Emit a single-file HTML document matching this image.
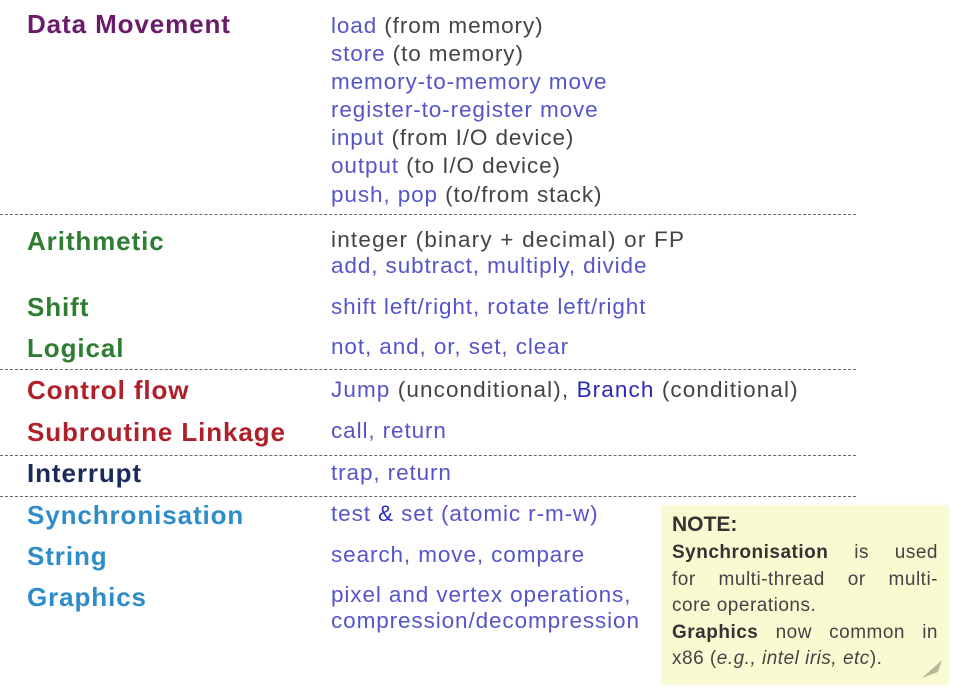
<!DOCTYPE html>
<html><head><meta charset="utf-8"><style>
body{margin:0;width:964px;height:696px;background:#fff;position:relative;overflow:hidden;font-family:"Liberation Sans",Arial,sans-serif}
.l{position:absolute;left:27px;font-weight:bold;font-size:26px;line-height:28px;white-space:nowrap;letter-spacing:0.9px}
.r{position:absolute;left:331px;font-size:22.5px;line-height:28px;white-space:nowrap;color:#444;letter-spacing:0.9px}
.b{color:#5555c8}
.bb{color:#2a2ab8}
.d{position:absolute;left:0;width:856px;border-top:1.5px dashed #666;height:0}
.note{position:absolute;left:662px;top:506px;width:286px;height:178px;background:#fafad2;box-shadow:0 0 4px #f0f0c0}
.nt{position:absolute;left:672px;font-size:19px;line-height:26.5px;color:#444;width:266px;letter-spacing:0.5px;white-space:nowrap}
.j{text-align:justify;text-align-last:justify}
</style></head><body>
<div class="l" style="top:10px;color:#6a1b6a">Data Movement</div>
<div class="r" style="top:12px"><span class="b">load</span> (from memory)</div>
<div class="r" style="top:40px"><span class="b">store</span> (to memory)</div>
<div class="r b" style="top:68px">memory-to-memory move</div>
<div class="r b" style="top:96px">register-to-register move</div>
<div class="r" style="top:124px"><span class="b">input</span> (from I/O device)</div>
<div class="r" style="top:152px"><span class="b">output</span> (to I/O device)</div>
<div class="r" style="top:181px"><span class="b">push, pop</span> (to/from stack)</div>
<div class="d" style="top:214px"></div>
<div class="l" style="top:227px;color:#2e7d32">Arithmetic</div>
<div class="r" style="top:226px;letter-spacing:1.2px">integer (binary + decimal) or FP</div>
<div class="r b" style="top:252px">add, subtract, multiply, divide</div>
<div class="l" style="top:293px;color:#2e7d32">Shift</div>
<div class="r b" style="top:293px">shift left/right, rotate left/right</div>
<div class="l" style="top:334px;color:#2e7d32">Logical</div>
<div class="r b" style="top:333px">not, and, or, set, clear</div>
<div class="d" style="top:369px"></div>
<div class="l" style="top:376px;color:#b0202a">Control flow</div>
<div class="r" style="top:376px;letter-spacing:1.1px"><span class="b">Jump</span> (unconditional), <span class="bb">Branch</span> (conditional)</div>
<div class="l" style="top:418px;color:#b0202a">Subroutine Linkage</div>
<div class="r b" style="top:417px">call, return</div>
<div class="d" style="top:455px"></div>
<div class="l" style="top:459px;color:#1a2a5a">Interrupt</div>
<div class="r b" style="top:459px">trap, return</div>
<div class="d" style="top:496px"></div>
<div class="l" style="top:501px;color:#2e8ccb">Synchronisation</div>
<div class="r b" style="top:500px">test <span class="bb">&amp;</span> set (atomic r-m-w)</div>
<div class="l" style="top:542px;color:#2e8ccb">String</div>
<div class="r b" style="top:541px">search, move, compare</div>
<div class="l" style="top:583px;color:#2e8ccb">Graphics</div>
<div class="r b" style="top:581px">pixel and vertex operations,</div>
<div class="r b" style="top:607px">compression/decompression</div>
<div class="note"></div>
<div class="nt" style="top:512px;font-weight:bold;font-size:21px;color:#333;letter-spacing:0">NOTE:</div>
<div class="nt j" style="top:540px"><b style="color:#333">Synchronisation</b> is used</div>
<div class="nt j" style="top:566.5px">for multi-thread or multi-</div>
<div class="nt" style="top:593px">core operations.</div>
<div class="nt j" style="top:619.5px"><b style="color:#333">Graphics</b> now common in</div>
<div class="nt" style="top:646px">x86 (<i>e.g., intel iris, etc</i>).</div>
<svg style="position:absolute;left:920px;top:658px" width="24" height="22"><polygon points="2,20 22,2 18,14" fill="#b8b89a"/></svg>
</body></html>
